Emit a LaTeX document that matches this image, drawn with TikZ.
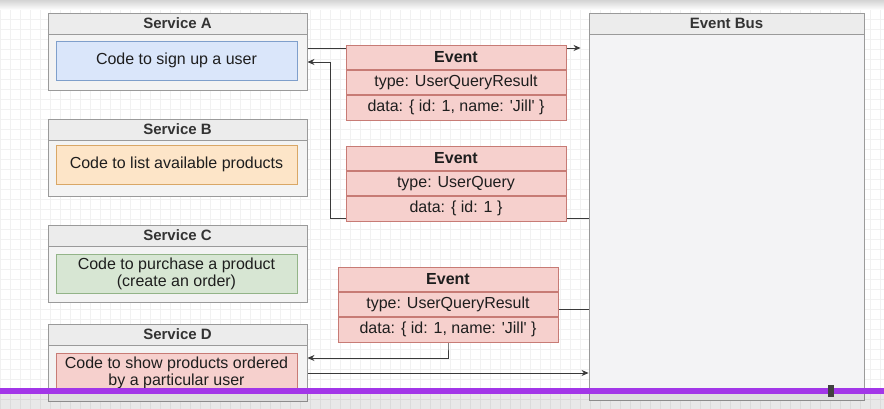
\documentclass[tikz,border=0pt]{standalone}
\usepackage{fontspec}
\setmainfont{Liberation Sans}
\usepackage{xcolor}
\usepackage{tikz}
\usetikzlibrary{
	arrows.meta,
	backgrounds,
	positioning
}
\definecolor{LineGray}{HTML}{9A9A9A}
\definecolor{BoxGray}{HTML}{F3F3F3}
\definecolor{HeadGray}{HTML}{ECECEC}
\definecolor{BusGray}{HTML}{F3F3F5}
\definecolor{TextGray}{HTML}{333333}
\definecolor{TextDark}{HTML}{1E1E1E}
\definecolor{FlowGray}{HTML}{3A3A3A}
\definecolor{GridGray}{HTML}{F1F1F1}
\definecolor{BlueFill}{HTML}{DAE6FA}
\definecolor{BlueLine}{HTML}{7F9FCB}
\definecolor{OrangeFill}{HTML}{FDE5C8}
\definecolor{OrangeLine}{HTML}{D9A766}
\definecolor{GreenFill}{HTML}{D7E6D3}
\definecolor{GreenLine}{HTML}{93B488}
\definecolor{RedFill}{HTML}{F6D0CD}
\definecolor{RedLine}{HTML}{C77B75}
\definecolor{BarPurple}{HTML}{A236E8}
\tikzset{
	service/.style={draw=LineGray, fill=BoxGray, line width=0.9pt, minimum width=259pt, minimum height=77pt, inner sep=0pt},
	svchead/.style={draw=LineGray, fill=HeadGray, line width=0.9pt, minimum width=259pt, minimum height=21pt, inner sep=0pt, text=TextGray, font=\fontsize{15}{18}\selectfont\bfseries},
	code/.style={line width=0.8pt, minimum width=241pt, minimum height=39pt, inner sep=0pt, align=center, text=TextDark, font=\fontsize{16}{17.5}\selectfont},
	evhead/.style={draw=RedLine, fill=RedFill, line width=0.8pt, minimum width=220pt, minimum height=24.5pt, inner sep=0pt, text=TextDark, font=\fontsize{16}{19}\selectfont\bfseries},
	evrow/.style={evhead, font=\fontsize{16}{19}\selectfont},
	flow/.style={draw=FlowGray, line width=0.8pt, -{Stealth[length=7pt,width=6pt]}}
}

\begin{document}
\begin{tikzpicture}[x=1pt, y=1pt]
	\useasboundingbox (0,0) rectangle (884,409);

	% services
	\node[service] (svcA) at (177.5,357.5) {};
	\node[svchead, anchor=north] (headA) at (svcA.north) {Service A};
	\node[code, fill=BlueFill, draw=BlueLine] (codeA) at (176.5,348.5) {Code to sign up a user};

	\node[service] (svcB) at (177.5,251.5) {};
	\node[svchead, anchor=north] (headB) at (svcB.north) {Service B};
	\node[code, fill=OrangeFill, draw=OrangeLine] (codeB) at (176.5,244.5) {Code to list available products};

	\node[service] (svcC) at (177.5,145.5) {};
	\node[svchead, anchor=north] (headC) at (svcC.north) {Service C};
	\node[code, fill=GreenFill, draw=GreenLine] (codeC) at (176.5,135) {Code to purchase a product\\(create an order)};

	\node[service] (svcD) at (177.5,46.5) {};
	\node[svchead, anchor=north] (headD) at (svcD.north) {Service D};
	\node[code, fill=RedFill, draw=RedLine, minimum height=40pt] (codeD) at (176.5,36) {Code to show products ordered\\by a particular user};

	% event bus
	\node[draw=LineGray, fill=BusGray, line width=0.9pt, minimum width=275pt, minimum height=387pt, inner sep=0pt] (bus) at (726.5,202.5) {};
	\node[svchead, minimum width=275pt, anchor=north] (busHead) at (bus.north) {Event Bus};

	% events
	\node[evhead] (evA) at (456,351.75) {Event};
	\node[evrow, below=0pt of evA] (evAtype) {type: UserQueryResult};
	\node[evrow, below=0pt of evAtype] (evAdata) {data: \{ id: 1, name: \textquotesingle Jill\textquotesingle\ \}};

	\node[evhead] (evB) at (456,250.75) {Event};
	\node[evrow, below=0pt of evB] (evBtype) {type: UserQuery};
	\node[evrow, below=0pt of evBtype] (evBdata) {data: \{ id: 1 \}};

	\node[evhead] (evC) at (448,129.75) {Event};
	\node[evrow, below=0pt of evC] (evCtype) {type: UserQueryResult};
	\node[evrow, below=0pt of evCtype] (evCdata) {data: \{ id: 1, name: \textquotesingle Jill\textquotesingle\ \}};

	% canvas and connectors, behind the boxes
	\coordinate (pubA) at ([yshift=3.5pt]svcA.east);
	\coordinate (subA) at ([yshift=-10.5pt]svcA.east);
	\coordinate (pubD) at ([yshift=-10.5pt]svcD.east);
	\coordinate (subD) at ([yshift=4.5pt]svcD.east);
	\coordinate (busQ) at ([yshift=-11.5pt]bus.west);
	\coordinate (busR) at ([yshift=-102.5pt]bus.west);
	\begin{scope}[on background layer]
		\fill[white] (0,0) rectangle (884,409);
		\draw[GridGray, line width=0.4pt, step=10] (0,0) grid (884,409);
		\fill[top color=black!17, bottom color=white, draw=none] (0,399) rectangle (884,409);
		\draw[flow, shorten >=8pt] (pubA) -- (pubA -| bus.west);
		\draw[flow] (busQ) -- ++(-258,0) |- (subA);
		\draw[flow] (busR) -| (evCdata.south) |- (subD);
		\draw[flow] (pubD) -- (pubD -| bus.west);
	\end{scope}

	% player bar
	\fill[black, opacity=0.09] (0,0) rectangle (884,15);
	\fill[BarPurple] (0,15) rectangle (884,21);
	\fill[black!75] (828,12) rectangle (834,24);
\end{tikzpicture}
\end{document}
